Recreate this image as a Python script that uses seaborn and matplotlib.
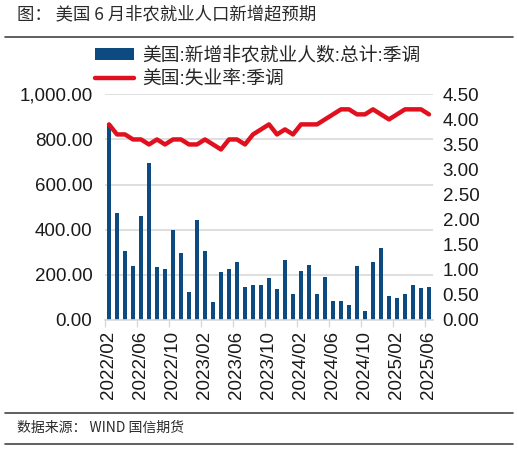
import numpy as np
import pandas as pd
import matplotlib
matplotlib.use("Agg")
import matplotlib.pyplot as plt
from matplotlib.lines import Line2D
from matplotlib.patches import Patch
import seaborn as sns

# ---------------- data ----------------
months = pd.period_range("2022-02", "2025-06", freq="M").strftime("%Y/%m").tolist()
nfp = [870, 473, 304, 239, 461, 696, 234, 225, 400, 296,
       123, 443, 305, 81, 213, 225, 255, 145, 156, 156,
       184, 139, 267, 114, 219, 243, 114, 191, 84, 84,
       68, 239, 41, 259, 320, 108, 99, 117, 156, 142, 147]
unemp = [3.9, 3.7, 3.7, 3.6, 3.6, 3.5, 3.6, 3.5, 3.6, 3.6,
         3.5, 3.5, 3.6, 3.5, 3.4, 3.6, 3.6, 3.5, 3.7, 3.8,
         3.9, 3.7, 3.8, 3.7, 3.9, 3.9, 3.9, 4.0, 4.1, 4.2,
         4.2, 4.1, 4.1, 4.2, 4.1, 4.0, 4.1, 4.2, 4.2, 4.2, 4.1]
tick_labels = ["2022/02", "2022/06", "2022/10", "2023/02", "2023/06", "2023/10",
               "2024/02", "2024/06", "2024/10", "2025/02", "2025/06"]
bar_label = "美国:新增非农就业人数:总计:季调"
line_label = "美国:失业率:季调"
title = "图： 美国 6 月非农就业人口新增超预期"
source = "数据来源： WIND 国信期货"

df = pd.DataFrame({"month": months, "nfp": nfp, "unemp": unemp})
df["idx"] = np.arange(len(df))

# ---------------- style ----------------
sns.set_theme(style="white")
plt.rcParams["font.family"] = ["Liberation Sans", "Noto Sans CJK SC", "DejaVu Sans"]

BLUE = "#0d4a80"
RED = "#e0101e"
GRID = "#d9d9d9"
TXT = "#1a1a1a"

W, H = 518, 451
fig = plt.figure(figsize=(W / 100, H / 100), dpi=100)
fig.patch.set_facecolor("white")

ax = fig.add_axes([105 / W, 1 - 320 / H, (433 - 105) / W, (320 - 94.3) / H])
ax2 = ax.twinx()

sns.barplot(data=df, x="idx", y="nfp", ax=ax, color=BLUE, width=0.38,
            saturation=1, edgecolor="none", linewidth=0)
sns.lineplot(data=df, x="idx", y="unemp", ax=ax2, color=RED, linewidth=3.2,
             solid_capstyle="round", solid_joinstyle="round")

ax.set_xlim(-0.5, len(df) - 0.5)
ax.set_ylim(0, 1000)
ax2.set_ylim(0, 4.5)

ax.set_yticks(np.arange(0, 1001, 200))
ax.set_yticklabels([f"{v:,.2f}" for v in np.arange(0, 1001, 200)])
ax2.set_yticks(np.arange(0, 4.51, 0.5))
ax2.set_yticklabels([f"{v:.2f}" for v in np.arange(0, 4.51, 0.5)])

ax.grid(axis="y", color=GRID, linewidth=1.2)
ax.set_axisbelow(True)
ax2.grid(False)

major = [months.index(t) for t in tick_labels]
ax.set_xticks(major)
ax.set_xticklabels(tick_labels, rotation=90, va="top", ha="center")
ax.set_xticks([m - 0.5 for m in major], minor=True)
ax.tick_params(axis="x", which="major", length=0, pad=8, labelsize=13.5, colors=TXT)
ax.tick_params(axis="x", which="minor", length=5, width=1, color=GRID, bottom=True)
ax.tick_params(axis="y", length=0, pad=9, labelsize=13.5, colors=TXT)
ax2.tick_params(axis="y", length=0, pad=7, labelsize=13.5, colors=TXT)

for a in (ax, ax2):
    for s in a.spines.values():
        s.set_visible(False)
ax.spines["bottom"].set_visible(True)
ax.spines["bottom"].set_color(GRID)
ax.spines["bottom"].set_linewidth(1.2)

ax.set_xlabel("")
ax.set_ylabel("")
ax2.set_xlabel("")
ax2.set_ylabel("")
ax2.set_zorder(ax.get_zorder() + 1)
ax2.patch.set_visible(False)

handles = [Patch(facecolor=BLUE, edgecolor="none", label=bar_label),
           Line2D([0], [0], color=RED, linewidth=3.2, label=line_label)]
fig.legend(handles=handles, loc="upper left",
           bbox_to_anchor=(95 / W, 1 - 47 / H), frameon=False,
           fontsize=13.5, handlelength=2.1, handleheight=0.6,
           handletextpad=0.4, labelspacing=0.32, borderpad=0, borderaxespad=0)

# header / footer
fig.text(17 / W, 1 - 14 / H, title, fontsize=12.5, color="#2a2a2a",
         va="center", ha="left", family=["Noto Sans CJK SC", "DejaVu Sans"])
fig.text(17 / W, 1 - 428 / H, source, fontsize=10, color="#2a2a2a",
         va="center", ha="left", family=["Noto Sans CJK SC", "DejaVu Sans"])
for yy in (37, 413, 444):
    fig.add_artist(Line2D([5 / W, 513 / W], [1 - yy / H, 1 - yy / H],
                          transform=fig.transFigure, color="#444444", linewidth=1.2))

fig.savefig("out.png", dpi=100, facecolor="white")
